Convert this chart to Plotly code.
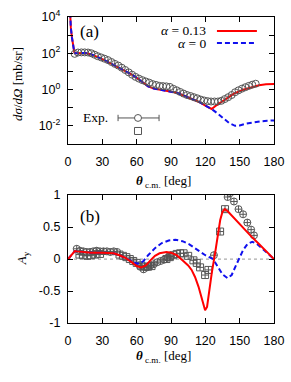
import plotly.graph_objects as go

# ---------------- data: (a) differential cross section ----------------
theta_curve = [0.5, 1.5, 2.5, 3.5, 4.5, 5.5, 6, 10, 15, 20, 25, 30, 35, 40, 45, 50, 55, 60,
               65, 70, 75, 80, 85, 90, 95, 100, 105, 110, 115, 120, 125.5]
xs_common = [1e6, 1.5e4, 2500, 700, 220, 115, 100, 105, 105, 89, 68, 48, 33, 23, 16, 10.7,
             7.1, 4.5, 2.5, 1.5, 1.15, 1.0, 0.89, 0.79, 0.66, 0.5, 0.38, 0.28, 0.2, 0.13, 0.085]
theta_red_tail = [130, 138.6, 145, 153, 160, 167, 173, 180]
xs_red_tail = [0.14, 0.34, 0.6, 0.98, 1.35, 1.74, 1.95, 2.0]
theta_blue_tail = [130, 135.7, 141, 146, 150, 156, 162, 168, 174, 180]
xs_blue_tail = [0.052, 0.027, 0.014, 0.010, 0.0105, 0.0135, 0.016, 0.0178, 0.019, 0.02]

theta_xs_exp = [5.8, 8.7, 11.7, 14.6, 17.5, 20.4, 23.3, 26, 29, 32, 35, 38, 41, 44, 47, 50, 53,
                56, 59, 62, 65, 68, 71, 74, 77, 80, 83, 86, 89, 92, 95, 98, 101, 104, 107, 110,
                113, 116, 119, 122, 125, 128, 131, 134, 137, 140, 143, 146, 149, 152, 155, 158,
                161, 164]
xs_exp = [93, 110, 112, 112, 110, 100, 83, 69, 59, 50, 42, 33, 26, 21, 16, 12, 8.9, 6.6, 5.0,
          4.0, 3.3, 2.8, 2.4, 2.0, 1.8, 1.6, 1.55, 1.5, 1.4, 1.1, 0.91, 0.74, 0.60, 0.50, 0.44,
          0.38, 0.33, 0.28, 0.25, 0.23, 0.22, 0.22, 0.22, 0.24, 0.30, 0.38, 0.50, 0.71, 0.91,
          1.12, 1.35, 1.6, 1.86, 2.1]

# ---------------- data: (b) analyzing power ----------------
theta_ay_red = [0, 3, 5, 6, 8, 12, 20, 30, 40, 45, 50, 55, 60, 64, 68, 72, 76, 80, 86, 90, 95,
                100, 105, 108, 111, 114, 117, 119.8, 121.5, 123, 125.6, 128.5, 131, 133, 135,
                137, 140, 144, 148.6, 154, 160.3, 166, 172, 176, 180]
ay_red = [0, 0.06, 0.11, 0.125, 0.12, 0.11, 0.10, 0.10, 0.09, 0.06, 0.02, -0.04, -0.11, -0.13,
          -0.10, -0.02, 0.05, 0.09, 0.11, 0.10, 0.06, -0.02, -0.10, -0.17, -0.28, -0.43, -0.62,
          -0.80, -0.75, -0.55, -0.22, 0.09, 0.40, 0.61, 0.74, 0.78, 0.74, 0.66, 0.58, 0.47, 0.35,
          0.25, 0.14, 0.07, 0]
theta_ay_blue = [0, 3, 5, 6, 8, 12, 20, 30, 40, 45, 50, 55, 60, 63, 66, 70, 76, 82, 88, 94, 100,
                 106, 113.6, 120, 126.8, 131, 135, 139.5, 143, 146, 149.5, 153, 157, 161, 165,
                 170, 175, 180]
ay_blue = [0, 0.06, 0.11, 0.125, 0.12, 0.11, 0.10, 0.10, 0.09, 0.06, 0.02, -0.03, -0.07, -0.07,
           -0.03, 0.06, 0.17, 0.25, 0.29, 0.30, 0.28, 0.23, 0.14, 0.06, 0.0, -0.12, -0.24, -0.30,
           -0.25, -0.13, 0.0, 0.14, 0.24, 0.27, 0.24, 0.16, 0.08, 0]

theta_ay_circ = [7.6, 10.5, 13.4, 16.3, 19.2, 22, 25, 28, 31, 34, 37, 40, 43, 63, 66, 69, 72, 75,
                 78, 81, 84, 87, 90, 127.5, 139.5, 141.6, 145, 149, 153, 156.7, 160, 162.5]
ay_circ = [0.16, 0.13, 0.12, 0.11, 0.11, 0.12, 0.13, 0.12, 0.12, 0.12, 0.11, 0.12, 0.11, -0.12,
           -0.16, -0.13, -0.10, -0.08, -0.05, -0.03, -0.01, 0.02, 0.04, 0.06, 0.97, 1.03, 0.90,
           0.78, 0.70, 0.57, 0.46, 0.37]
theta_ay_sq = [10, 13, 17, 20, 24, 28, 45, 48, 51, 54, 57, 60, 64, 67, 70, 73, 86, 89, 92, 95,
               98, 101, 105, 109.6, 112.5, 115.4, 119.8, 122.7, 132.9, 137.2]
ay_sq = [0.07, 0.06, 0.05, 0.06, 0.07, 0.08, 0.07, 0.05, 0.03, 0.0, -0.03, -0.06, -0.10, -0.12,
         -0.12, -0.11, 0.0, 0.03, 0.06, 0.08, 0.09, 0.09, 0.05, -0.02, -0.06, -0.13, -0.25, -0.17,
         0.43, 0.78]

x_ticks = [0, 30, 60, 90, 120, 150, 180]
log_ticks = [1e-3, 1e-2, 1e-1, 1e0, 1e1, 1e2, 1e3, 1e4]
log_ticktext = ["", "10<sup>-2</sup>", "", "10<sup>0</sup>", "", "10<sup>2</sup>", "", "10<sup>4</sup>"]
ay_ticks = [-1, -0.5, 0, 0.5, 1]
ay_ticktext = ["-1", "-0.5", "0", "0.5", "1"]

RED = "#ff0000"
BLUE = "#1010ee"
GRAY = "#555555"
SANS = "Liberation Sans, Arial, sans-serif"
SERIF = "Liberation Serif, Times New Roman, serif"

fig = go.Figure()

# (a)
fig.add_trace(go.Scatter(x=theta_curve + theta_red_tail, y=xs_common + xs_red_tail, mode="lines",
                         line=dict(color=RED, width=2), xaxis="x", yaxis="y", showlegend=False))
fig.add_trace(go.Scatter(x=theta_curve + theta_blue_tail, y=xs_common + xs_blue_tail, mode="lines",
                         line=dict(color=BLUE, width=2, dash="5px,3px"), xaxis="x", yaxis="y",
                         showlegend=False))
fig.add_trace(go.Scatter(x=theta_xs_exp, y=xs_exp, mode="markers",
                         marker=dict(symbol="circle-open", size=7, color=GRAY, line=dict(width=1)),
                         xaxis="x", yaxis="y", showlegend=False))

# (b)
fig.add_trace(go.Scatter(x=[0, 180], y=[0, 0], mode="lines",
                         line=dict(color="#aaaaaa", width=1.2, dash="dot"),
                         xaxis="x2", yaxis="y2", showlegend=False, hoverinfo="skip"))
fig.add_trace(go.Scatter(x=theta_ay_circ, y=ay_circ, mode="markers",
                         marker=dict(symbol="circle-open", size=7, color=GRAY, line=dict(width=1)),
                         error_y=dict(type="constant", value=0.055, thickness=1, width=0, color=GRAY),
                         error_x=dict(type="constant", value=3, thickness=1, width=0, color=GRAY),
                         xaxis="x2", yaxis="y2", showlegend=False))
fig.add_trace(go.Scatter(x=theta_ay_sq, y=ay_sq, mode="markers",
                         marker=dict(symbol="square-open", size=7, color=GRAY, line=dict(width=1)),
                         error_y=dict(type="constant", value=0.055, thickness=1, width=0, color=GRAY),
                         error_x=dict(type="constant", value=3, thickness=1, width=0, color=GRAY),
                         xaxis="x2", yaxis="y2", showlegend=False))
fig.add_trace(go.Scatter(x=theta_ay_blue, y=ay_blue, mode="lines",
                         line=dict(color=BLUE, width=2, dash="5px,3px"),
                         xaxis="x2", yaxis="y2", showlegend=False))
fig.add_trace(go.Scatter(x=theta_ay_red, y=ay_red, mode="lines",
                         line=dict(color=RED, width=2),
                         xaxis="x2", yaxis="y2", showlegend=False))

axis_common = dict(showline=True, linecolor="black", linewidth=1.3, mirror="allticks",
                   ticks="inside", ticklen=5, tickwidth=1, tickcolor="black", showgrid=False,
                   zeroline=False, automargin=False,
                   tickfont=dict(family=SANS, size=12.5, color="black"))

fig.update_layout(
    width=291, height=382,
    margin=dict(l=68, r=17, t=17, b=59, autoexpand=False),
    paper_bgcolor="white", plot_bgcolor="white",
    xaxis=dict(domain=[0, 1], range=[0, 180], tickvals=x_ticks, anchor="y",
               ticklabelstandoff=6, **axis_common),
    yaxis=dict(domain=[0.585, 1], type="log", range=[-3, 4], tickvals=log_ticks,
               ticktext=log_ticktext, anchor="x", ticklabelstandoff=4, **axis_common),
    xaxis2=dict(domain=[0, 1], range=[0, 180], tickvals=x_ticks, anchor="y2",
                ticklabelstandoff=6, **axis_common),
    yaxis2=dict(domain=[0, 0.418], range=[-1, 1], tickvals=ay_ticks, ticktext=ay_ticktext,
                anchor="x2", ticklabelstandoff=4, **axis_common),
)

ann = []
def A(text, x, y, xref, yref, size=13, xanchor="center", yanchor="middle", angle=0, family=SERIF):
    ann.append(dict(text=text, x=x, y=y, xref=xref, yref=yref, showarrow=False, xanchor=xanchor,
                    yanchor=yanchor, textangle=angle, font=dict(family=family, size=size, color="black")))

A("(a)", 0.104, 0.882, "x domain", "y domain", size=17)
A("(b)", 0.107, 0.836, "x2 domain", "y2 domain", size=17)
A("<i>α</i> = 0.13", 0.68, 0.89, "x domain", "y domain", size=13.5, xanchor="right")
A("<i>α</i> = 0", 0.68, 0.795, "x domain", "y domain", size=13.5, xanchor="right")
A("Exp.", 0.204, 0.205, "x domain", "y domain", size=13.5, xanchor="right")
A("<i>dσ</i>/<i>dΩ</i> [mb/sr]", -0.2476, 0.781, "paper", "paper", size=13, angle=-90)
A("<i>A</i><sub>y</sub>", -0.223, 0.212, "paper", "paper", size=13, angle=-90)
A("<b><i>θ</i></b><sub> c.m.</sub> [deg]", 0.466, 0.461, "paper", "paper", size=13)
A("<b><i>θ</i></b><sub> c.m.</sub> [deg]", 0.466, -0.111, "paper", "paper", size=13)
fig.update_layout(annotations=ann)

shapes = [
    dict(type="line", xref="x domain", yref="y domain", x0=0.723, x1=0.917, y0=0.89, y1=0.89,
         line=dict(color=RED, width=2)),
    dict(type="line", xref="x domain", yref="y domain", x0=0.723, x1=0.917, y0=0.795, y1=0.795,
         line=dict(color=BLUE, width=2, dash="5px,3px")),
    dict(type="line", xref="x domain", yref="y domain", x0=0.243, x1=0.3228, y0=0.205, y1=0.205,
         line=dict(color=GRAY, width=1)),
    dict(type="line", xref="x domain", yref="y domain", x0=0.3568, x1=0.442, y0=0.205, y1=0.205,
         line=dict(color=GRAY, width=1)),
    dict(type="line", xref="x domain", yref="y domain", x0=0.243, x1=0.243, y0=0.18, y1=0.23,
         line=dict(color=GRAY, width=1)),
    dict(type="line", xref="x domain", yref="y domain", x0=0.442, x1=0.442, y0=0.18, y1=0.23,
         line=dict(color=GRAY, width=1)),
    dict(type="circle", xref="x domain", yref="y domain", x0=0.3228, x1=0.3568, y0=0.178, y1=0.232,
         line=dict(color=GRAY, width=1)),
    dict(type="rect", xref="x domain", yref="y domain", x0=0.3228, x1=0.3568, y0=0.0748, y1=0.13,
         line=dict(color=GRAY, width=1)),
]
fig.update_layout(shapes=shapes)

fig.write_html("out.html", config={"displayModeBar": False},
               post_script="document.body.style.margin='0';document.body.style.padding='0';")
